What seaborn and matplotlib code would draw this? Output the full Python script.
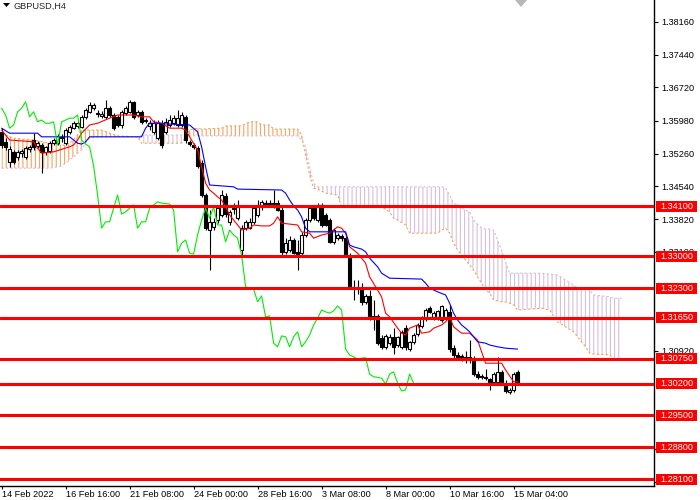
import numpy as np
import matplotlib
matplotlib.use("Agg")
import matplotlib.pyplot as plt
from matplotlib.patches import Rectangle, Polygon
import seaborn as sns

# ---------------- data (GBPUSD H4) ----------------
OPEN = [1.3574, 1.3552, 1.3508, 1.3530, 1.3519, 1.3527, 1.3519, 1.3536, 1.3556, 1.3543,
        1.3545, 1.3530, 1.3532, 1.3549, 1.3549, 1.3560, 1.3549, 1.3574, 1.3582, 1.3587,
        1.3585, 1.3607, 1.3618, 1.3626, 1.3613, 1.3609, 1.3607, 1.3626, 1.3611, 1.3607,
        1.3589, 1.3615, 1.3618, 1.3640, 1.3611, 1.3618, 1.3598, 1.3587, 1.3574, 1.3560,
        1.3593, 1.3574, 1.3589, 1.3593, 1.3589, 1.3589, 1.3607, 1.3552, 1.3545, 1.3538,
        1.3505, 1.3435, 1.3358, 1.3365, 1.3380, 1.3391, 1.3433, 1.3376, 1.3404, 1.3384,
        1.3314, 1.3362, 1.3362, 1.3376, 1.3391, 1.3409, 1.3415, 1.3417, 1.3417, 1.3417,
        1.3402, 1.3310, 1.3314, 1.3336, 1.3310, 1.3307, 1.3347, 1.3380, 1.3406, 1.3380,
        1.3413, 1.3391, 1.3380, 1.3332, 1.3340, 1.3345, 1.3340, 1.3303, 1.3233, 1.3230,
        1.3228, 1.3200, 1.3213, 1.3167, 1.3169, 1.3120, 1.3101, 1.3109, 1.3123, 1.3105,
        1.3101, 1.3142, 1.3096, 1.3112, 1.3129, 1.3147, 1.3162, 1.3186, 1.3164, 1.3164,
        1.3160, 1.3164, 1.3178, 1.3098, 1.3083, 1.3081, 1.3079, 1.3078, 1.3076, 1.3041,
        1.3037, 1.3035, 1.3030, 1.3024, 1.3024, 1.3046, 1.3021, 1.3002, 1.3006, 1.3046]
HIGH = [1.3582, 1.3560, 1.3543, 1.3534, 1.3534, 1.3536, 1.3543, 1.3545, 1.3571, 1.3554,
        1.3549, 1.3543, 1.3554, 1.3560, 1.3569, 1.3569, 1.3582, 1.3589, 1.3598, 1.3598,
        1.3611, 1.3626, 1.3640, 1.3637, 1.3622, 1.3620, 1.3644, 1.3631, 1.3615, 1.3611,
        1.3622, 1.3631, 1.3644, 1.3642, 1.3622, 1.3622, 1.3604, 1.3600, 1.3600, 1.3600,
        1.3600, 1.3604, 1.3611, 1.3611, 1.3622, 1.3618, 1.3611, 1.3556, 1.3549, 1.3543,
        1.3512, 1.3439, 1.3402, 1.3384, 1.3413, 1.3446, 1.3439, 1.3402, 1.3417, 1.3424,
        1.3369, 1.3380, 1.3384, 1.3413, 1.3424, 1.3424, 1.3424, 1.3424, 1.3446, 1.3424,
        1.3409, 1.3340, 1.3345, 1.3340, 1.3336, 1.3354, 1.3384, 1.3411, 1.3413, 1.3417,
        1.3417, 1.3395, 1.3384, 1.3362, 1.3351, 1.3349, 1.3345, 1.3307, 1.3248, 1.3248,
        1.3241, 1.3217, 1.3226, 1.3204, 1.3173, 1.3127, 1.3129, 1.3129, 1.3142, 1.3125,
        1.3138, 1.3149, 1.3114, 1.3131, 1.3153, 1.3169, 1.3186, 1.3191, 1.3180, 1.3182,
        1.3193, 1.3186, 1.3193, 1.3105, 1.3090, 1.3085, 1.3092, 1.3116, 1.3081, 1.3048,
        1.3041, 1.3052, 1.3032, 1.3046, 1.3079, 1.3050, 1.3028, 1.3010, 1.3046, 1.3050]
LOW = [1.3538, 1.3534, 1.3497, 1.3503, 1.3512, 1.3519, 1.3514, 1.3530, 1.3534, 1.3538,
       1.3483, 1.3523, 1.3527, 1.3545, 1.3545, 1.3552, 1.3545, 1.3569, 1.3580, 1.3582,
       1.3582, 1.3602, 1.3615, 1.3622, 1.3607, 1.3604, 1.3602, 1.3607, 1.3578, 1.3585,
       1.3582, 1.3611, 1.3615, 1.3602, 1.3607, 1.3591, 1.3593, 1.3578, 1.3569, 1.3556,
       1.3538, 1.3569, 1.3585, 1.3589, 1.3585, 1.3585, 1.3549, 1.3543, 1.3536, 1.3494,
       1.3431, 1.3358, 1.3270, 1.3358, 1.3373, 1.3387, 1.3387, 1.3369, 1.3393, 1.3380,
       1.3303, 1.3358, 1.3360, 1.3371, 1.3387, 1.3402, 1.3411, 1.3413, 1.3406, 1.3400,
       1.3303, 1.3305, 1.3310, 1.3305, 1.3270, 1.3303, 1.3343, 1.3376, 1.3380, 1.3376,
       1.3365, 1.3367, 1.3329, 1.3327, 1.3336, 1.3334, 1.3301, 1.3230, 1.3204, 1.3217,
       1.3193, 1.3195, 1.3160, 1.3138, 1.3105, 1.3096, 1.3096, 1.3105, 1.3085, 1.3101,
       1.3096, 1.3094, 1.3092, 1.3107, 1.3125, 1.3142, 1.3158, 1.3175, 1.3160, 1.3160,
       1.3156, 1.3160, 1.3090, 1.3076, 1.3074, 1.3070, 1.3065, 1.3065, 1.3037, 1.3030,
       1.3030, 1.3028, 1.3006, 1.3017, 1.3017, 1.3017, 1.2999, 1.2997, 1.3002, 1.3017]
CLOSE = [1.3545, 1.3541, 1.3536, 1.3508, 1.3530, 1.3532, 1.3538, 1.3541, 1.3541, 1.3549,
         1.3530, 1.3541, 1.3549, 1.3556, 1.3565, 1.3563, 1.3578, 1.3585, 1.3593, 1.3593,
         1.3607, 1.3622, 1.3633, 1.3633, 1.3615, 1.3613, 1.3626, 1.3611, 1.3582, 1.3589,
         1.3618, 1.3626, 1.3640, 1.3607, 1.3618, 1.3596, 1.3600, 1.3593, 1.3593, 1.3596,
         1.3545, 1.3596, 1.3600, 1.3604, 1.3604, 1.3611, 1.3556, 1.3547, 1.3541, 1.3499,
         1.3435, 1.3362, 1.3376, 1.3376, 1.3406, 1.3435, 1.3393, 1.3398, 1.3406, 1.3413,
         1.3362, 1.3376, 1.3376, 1.3406, 1.3413, 1.3420, 1.3417, 1.3416, 1.3415, 1.3402,
         1.3310, 1.3329, 1.3336, 1.3307, 1.3305, 1.3347, 1.3380, 1.3406, 1.3384, 1.3409,
         1.3369, 1.3369, 1.3332, 1.3358, 1.3347, 1.3340, 1.3303, 1.3233, 1.3230, 1.3228,
         1.3200, 1.3213, 1.3167, 1.3169, 1.3109, 1.3101, 1.3125, 1.3123, 1.3101, 1.3123,
         1.3134, 1.3101, 1.3112, 1.3127, 1.3149, 1.3164, 1.3182, 1.3178, 1.3175, 1.3180,
         1.3191, 1.3182, 1.3096, 1.3083, 1.3079, 1.3074, 1.3076, 1.3077, 1.3041, 1.3035,
         1.3034, 1.3032, 1.3019, 1.3041, 1.3046, 1.3021, 1.3004, 1.3006, 1.3041, 1.3021]

# Ichimoku: Tenkan-sen (red) vertices
TENKAN_BARS = [0, 2, 8, 9, 10, 13, 17, 18, 19, 20, 22, 24, 27, 29, 33, 35, 37, 38, 40, 42,
               45, 46, 47, 49, 50, 51, 52, 53, 54, 55, 56, 57, 59, 60, 62, 63, 65, 67, 68, 69,
               70, 74, 75, 77, 78, 80, 82, 83, 84, 85, 86, 87, 89, 91, 92, 95, 96, 97, 99, 100,
               101, 102, 104, 105, 107, 108, 110, 111, 112, 113, 115, 117, 119, 120, 121, 125, 126, 128, 129]
TENKAN = [1.3578, 1.3556, 1.3552, 1.3538, 1.3527, 1.3530, 1.3541, 1.3545, 1.3556, 1.3571,
          1.3589, 1.3593, 1.3604, 1.3611, 1.3611, 1.3607, 1.3607, 1.3596, 1.3593, 1.3582,
          1.3582, 1.3578, 1.3563, 1.3534, 1.3497, 1.3461, 1.3446, 1.3439, 1.3431, 1.3424,
          1.3409, 1.3391, 1.3369, 1.3358, 1.3362, 1.3369, 1.3367, 1.3367, 1.3373, 1.3387,
          1.3373, 1.3369, 1.3354, 1.3351, 1.3340, 1.3347, 1.3351, 1.3358, 1.3365, 1.3362,
          1.3351, 1.3321, 1.3307, 1.3285, 1.3255, 1.3211, 1.3175, 1.3167, 1.3142, 1.3131,
          1.3127, 1.3142, 1.3149, 1.3131, 1.3134, 1.3142, 1.3149, 1.3156, 1.3167, 1.3145,
          1.3131, 1.3131, 1.3116, 1.3090, 1.3065, 1.3065, 1.3050, 1.3024, 1.3024]

# Kijun-sen (blue) vertices
KIJUN_BARS = [0, 2, 9, 10, 17, 18, 19, 20, 21, 22, 35, 36, 37, 47, 49, 50, 51, 52, 58, 59,
              70, 71, 72, 73, 74, 75, 76, 77, 86, 87, 88, 90, 91, 92, 94, 95, 97, 105, 106, 107,
              109, 111, 112, 113, 114, 115, 116, 117, 118, 119, 121, 122, 124, 126, 129]
KIJUN = [1.3582, 1.3571, 1.3571, 1.3563, 1.3563, 1.3556, 1.3549, 1.3547, 1.3552, 1.3563,
         1.3563, 1.3582, 1.3593, 1.3589, 1.3574, 1.3541, 1.3497, 1.3457, 1.3453, 1.3448,
         1.3446, 1.3439, 1.3424, 1.3411, 1.3402, 1.3387, 1.3362, 1.3354, 1.3354, 1.3325,
         1.3321, 1.3316, 1.3310, 1.3296, 1.3277, 1.3263, 1.3252, 1.3250, 1.3241, 1.3230,
         1.3222, 1.3215, 1.3197, 1.3175, 1.3160, 1.3149, 1.3142, 1.3134, 1.3123, 1.3112,
         1.3109, 1.3105, 1.3101, 1.3098, 1.3096]

# Cloud (Senkou Span A / B, shifted 26 bars ahead)
CLOUD_BARS = [0, 3, 8, 12, 14, 15, 16, 17, 18, 19,
              20, 21, 22, 24, 25, 27, 29, 34, 35, 45,
              46, 47, 49, 50, 55, 56, 60, 62, 64, 65,
              67, 68, 74, 75, 76, 77, 78, 79, 81, 84,
              85, 95, 97, 98, 99, 101, 102, 109, 110, 111,
              112, 113, 114, 115, 116, 117, 118, 119, 120, 121,
              122, 123, 124, 125, 126, 127, 128, 129, 135, 137,
              139, 141, 143, 144, 146, 147, 148, 152, 153, 155]
SPAN_A = [1.3571, 1.3560, 1.3556, 1.3549, 1.3547, 1.3545, 1.3545, 1.3549, 1.3556, 1.3567,
          1.3578, 1.3578, 1.3578, 1.3578, 1.3578, 1.3571, 1.3565, 1.3563, 1.3549, 1.3549,
          1.3563, 1.3578, 1.3582, 1.3580, 1.3582, 1.3587, 1.3587, 1.3596, 1.3596, 1.3589,
          1.3589, 1.3580, 1.3580, 1.3567, 1.3523, 1.3479, 1.3450, 1.3448, 1.3439, 1.3435,
          1.3409, 1.3409, 1.3398, 1.3384, 1.3380, 1.3369, 1.3351, 1.3351, 1.3358, 1.3362,
          1.3351, 1.3329, 1.3314, 1.3303, 1.3292, 1.3281, 1.3270, 1.3255, 1.3241, 1.3226,
          1.3219, 1.3204, 1.3202, 1.3200, 1.3200, 1.3197, 1.3193, 1.3182, 1.3186, 1.3182,
          1.3156, 1.3145, 1.3134, 1.3123, 1.3101, 1.3087, 1.3085, 1.3083, 1.3076, 1.3072]
SPAN_B = [1.3494, 1.3494, 1.3494, 1.3494, 1.3497, 1.3499, 1.3505, 1.3512, 1.3519, 1.3527,
          1.3534, 1.3549, 1.3560, 1.3563, 1.3563, 1.3563, 1.3563, 1.3563, 1.3567, 1.3567,
          1.3565, 1.3565, 1.3565, 1.3565, 1.3565, 1.3565, 1.3565, 1.3565, 1.3565, 1.3565,
          1.3565, 1.3565, 1.3565, 1.3556, 1.3541, 1.3497, 1.3461, 1.3453, 1.3453, 1.3453,
          1.3453, 1.3453, 1.3453, 1.3453, 1.3453, 1.3453, 1.3453, 1.3453, 1.3453, 1.3450,
          1.3435, 1.3417, 1.3413, 1.3406, 1.3402, 1.3398, 1.3380, 1.3371, 1.3362, 1.3360,
          1.3360, 1.3358, 1.3336, 1.3314, 1.3288, 1.3263, 1.3263, 1.3263, 1.3263, 1.3261,
          1.3259, 1.3248, 1.3237, 1.3230, 1.3228, 1.3226, 1.3215, 1.3211, 1.3208, 1.3208]

CHIKOU_SHIFT = 26
LEVELS = [1.3410, 1.3300, 1.3230, 1.3165, 1.3075, 1.3020, 1.2950, 1.2880, 1.2810]
# price-scale ticks that remain visible (others sit fully behind the level tags)
YTICKS = [1.38160, 1.37440, 1.36720, 1.35980, 1.35260, 1.34540, 1.33820, 1.33100,
          1.30920, 1.28760, 1.28040]
XTICK_BARS = [0, 16, 32, 48, 64, 80, 96, 112, 128]
XTICK_LABELS = ["14 Feb 2022", "16 Feb 16:00", "21 Feb 08:00", "24 Feb 00:00", "28 Feb 16:00",
                "3 Mar 08:00", "8 Mar 00:00", "10 Mar 16:00", "15 Mar 04:00"]
TITLE = "GBPUSD,H4"

# ---------------- style ----------------
sns.set_style("white")
plt.rcParams["font.family"] = ["Liberation Sans", "DejaVu Sans"]
plt.rcParams["hatch.linewidth"] = 0.8
FS = 6.6

fig = plt.figure(figsize=(7, 5), dpi=100)
ax = fig.add_axes([0, 14 / 500, 654 / 700, 486 / 500])

o = np.array(OPEN); h = np.array(HIGH); l = np.array(LOW); c = np.array(CLOSE)
bars = np.arange(len(c))

# cloud
cb = np.array(CLOUD_BARS); sa = np.array(SPAN_A); sb = np.array(SPAN_B)
ax.fill_between(cb, sa, sb, where=sa >= sb, interpolate=True, facecolor="none",
                edgecolor="#F4A460", hatch="||||", linewidth=0, zorder=1)
ax.fill_between(cb, sa, sb, where=sa < sb, interpolate=True, facecolor="none",
                edgecolor="#D8BFD8", hatch="||||", linewidth=0, zorder=1)
ax.plot(cb, sa, color="#F4A460", lw=0.8, ls=(0, (2, 2)), zorder=1.5)
ax.plot(cb, sb, color="#D8BFD8", lw=0.8, ls=(0, (2, 2)), zorder=1.5)

# candles
up = c >= o
ax.vlines(bars, l, h, color="black", lw=0.8, zorder=2)
ax.bar(bars[up], (c - o)[up], bottom=o[up], width=0.6, color="white",
       edgecolor="black", linewidth=0.8, zorder=3)
ax.bar(bars[~up], (o - c)[~up], bottom=c[~up], width=0.6, color="black",
       edgecolor="black", linewidth=0.8, zorder=3)

# ichimoku lines
sns.lineplot(x=TENKAN_BARS, y=TENKAN, ax=ax, color="#FF0000", lw=0.8, zorder=4)
sns.lineplot(x=KIJUN_BARS, y=KIJUN, ax=ax, color="#0000FF", lw=0.8, zorder=4)
sns.lineplot(x=bars[:-CHIKOU_SHIFT], y=c[CHIKOU_SHIFT:], ax=ax, color="#00EE00", lw=0.8, zorder=4)

# bid line and levels
ax.axhline(c[-1], color="#c0c0c0", lw=0.8, zorder=4.5)
for v in LEVELS:
    ax.axhline(v, color="#FF0000", lw=2.2, zorder=5)

ax.set_xlim(-0.4, 163.1)
ax.set_ylim(1.27948, 1.3864)

ax.yaxis.tick_right()
ax.set_yticks(YTICKS)
ax.set_yticklabels([f"{t:.5f}" for t in YTICKS])
ax.tick_params(axis="y", direction="out", length=3, width=0.8, pad=2,
               labelsize=FS, colors="black", right=True, left=False)
ax.set_xticks(XTICK_BARS)
ax.set_xticklabels(XTICK_LABELS, ha="left")
ax.tick_params(axis="x", direction="out", length=2.5, width=0.8, pad=0.3,
               labelsize=FS, colors="black", bottom=True)
ax.set_xlabel(""); ax.set_ylabel("")
for s in ["top", "left"]:
    ax.spines[s].set_visible(False)
for s in ["right", "bottom"]:
    ax.spines[s].set_color("black"); ax.spines[s].set_linewidth(1.0)

# level price tags
trans = ax.get_yaxis_transform()
for v in LEVELS:
    ax.add_patch(Rectangle((1.003, v - 0.0012), 0.0627, 0.0024, transform=trans,
                           facecolor="#FF0000", edgecolor="none", clip_on=False, zorder=10))
    ax.text(1.0344, v, f"{v:.5f}", transform=trans, ha="center", va="center",
            color="white", fontsize=FS, zorder=11, clip_on=False)

# title and markers
fig.text(14 / 700, 1 - 6 / 500, TITLE, fontsize=FS, ha="left", va="center")
fig.add_artist(Polygon([(3 / 700, 1 - 3 / 500), (10 / 700, 1 - 3 / 500), (6.5 / 700, 1 - 7 / 500)],
                       closed=True, transform=fig.transFigure, facecolor="black", edgecolor="none"))
fig.add_artist(Polygon([(515 / 700, 1.0), (527 / 700, 1.0), (521 / 700, 1 - 7 / 500)],
                       closed=True, transform=fig.transFigure, facecolor="#b8b8b8", edgecolor="none"))

fig.savefig("out.png", dpi=100)
